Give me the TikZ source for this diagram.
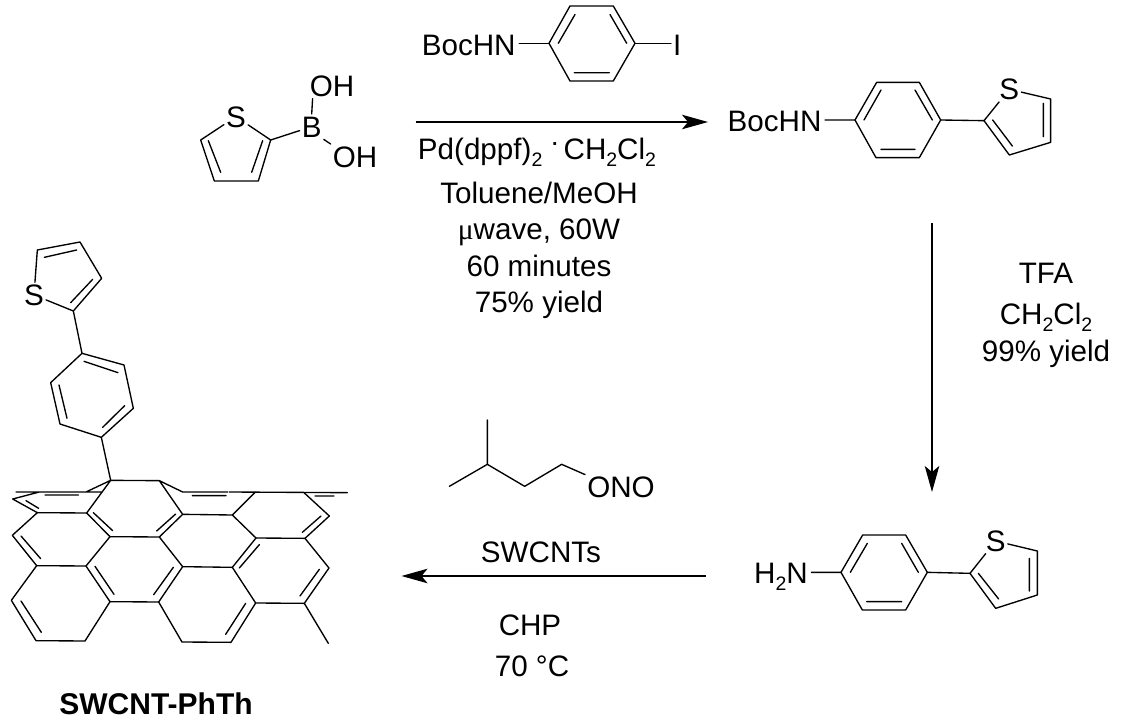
\documentclass[tikz,border=0pt]{standalone}
\usepackage{fontspec}
\setmainfont{Liberation Sans}
\newfontfamily\greekfont{Liberation Serif}
\usetikzlibrary{arrows.meta}
\newcommand{\chemsub}[1]{\raisebox{-0.22em}{\fontsize{19.5}{20}\selectfont #1}}
\tikzset{
  bond/.style={line width=1.35pt,line cap=round,line join=round,black},
  rxn/.style={line width=1.15pt,-{Stealth[length=26pt,width=14.5pt,inset=6pt]},black},
  txt/.style={font=\fontsize{29.6}{32}\selectfont,inner sep=0pt,text height=21pt,text depth=0pt,black},
  atom/.style={txt,inner sep=2pt},
  zoomed/.style={x=0.33333pt,y=-0.33333pt},
}
\begin{document}
\begin{tikzpicture}[x=1pt,y=-1pt]
\useasboundingbox (0,0) rectangle (1122,725);
\fill[white] (0,0) rectangle (1122,725);

% ---- thienylboronic acid
\node[atom] (S1) at (236,116.7) {S};
\node[atom] (B1) at (311.7,126.7) {B};
\node[atom] (OHa) at (332,86) {OH};
\node[atom] (OHb) at (355,156.7) {OH};
\begin{scope}[shift={(180,10)},zoomed]
\coordinate (c2) at (272,390); \coordinate (c3) at (235,513);
\coordinate (c4) at (103,513); \coordinate (c5) at (62,390);
\draw[bond] (S1) -- (c2) -- (c3) -- (c4) -- (c5) -- (S1);
\draw[bond] (248,392) -- (215,487) (122,487) -- (85,392);
\end{scope}
\draw[bond] (c2) -- (B1);
\draw[bond] (B1.north) -- ([xshift=5pt]OHa.south west);
\draw[bond] (B1.south east) -- (OHb.north west);

% ---- aryl iodide
\node[atom] (Boc1) at (468.7,44.7) {BocHN};
\node[atom] (I1) at (677.3,44.7) {I};
\coordinate (a1) at (549,43.3); \coordinate (a2) at (570,6);
\coordinate (a3) at (613.3,6); \coordinate (a4) at (635,43.3);
\coordinate (a5) at (613.3,81); \coordinate (a6) at (570,81);
\draw[bond] (a1) -- (a2) -- (a3) -- (a4) -- (a5) -- (a6) -- cycle;
\draw[bond] ([xshift=1.5pt]Boc1.east |- a1) -- (a1) (a4) -- (I1.west |- a4);
\draw[bond] (558.3,43.3) -- (575,14.5) (610,14.5) -- (626.7,43.3) (574.3,72.7) -- (609.3,72.7);

% ---- Boc product
\node[atom] (Boc2) at (774.5,120.7) {BocHN};
\node[atom] (S2) at (1009.3,89.3) {S};
\begin{scope}[shift={(720,60)},zoomed]
\coordinate (b1) at (405,180); \coordinate (b2) at (470,67);
\coordinate (b3) at (598,67); \coordinate (b4) at (662,180);
\coordinate (b5) at (598,293); \coordinate (b6) at (468,293);
\coordinate (d2) at (792,182); \coordinate (d3) at (868,285);
\coordinate (d4) at (992,247); \coordinate (d5) at (992,117);
\draw[bond] (b1) -- (b2) -- (b3) -- (b4) -- (b5) -- (b6) -- cycle;
\draw[bond] ([xshift=1.5pt]Boc2.east |- b1) -- (b1) (b4) -- (d2);
\draw[bond] (S2) -- (d2) -- (d3) -- (d4) -- (d5) -- (S2);
\draw[bond] (432,180) -- (483,90) (585,90) -- (637,180) (483,268) -- (585,268);
\draw[bond] (818,180) -- (877,258) (970,130) -- (970,230);
\end{scope}

% ---- amine
\node[atom] (NH2) at (781,573) {H\chemsub{2}N};
\node[atom] (S3) at (995.7,541) {S};
\begin{scope}[shift={(740,515)},zoomed]
\coordinate (e1) at (303,172); \coordinate (e2) at (368,60);
\coordinate (e3) at (497,60); \coordinate (e4) at (562,172);
\coordinate (e5) at (497,285); \coordinate (e6) at (367,285);
\coordinate (f2) at (690,175); \coordinate (f3) at (767,280);
\coordinate (f4) at (892,240); \coordinate (f5) at (892,108);
\draw[bond] (e1) -- (e2) -- (e3) -- (e4) -- (e5) -- (e6) -- cycle;
\draw[bond] ([xshift=1.5pt]NH2.east |- e1) -- (e1) (e4) -- (f2);
\draw[bond] (S3) -- (f2) -- (f3) -- (f4) -- (f5) -- (S3);
\draw[bond] (331,172) -- (382,85) (485,85) -- (535,172) (380,260) -- (485,260);
\draw[bond] (715,175) -- (776,252) (868,130) -- (868,228);
\end{scope}

% ---- isopentyl nitrite
\node[atom] (ONO1) at (621,487.3) {ONO};
\begin{scope}[shift={(400,410)},zoomed]
\coordinate (g1) at (262,30); \coordinate (g2) at (262,163);
\coordinate (g3) at (148,229); \coordinate (g4) at (374,229);
\coordinate (g5) at (485,163);
\draw[bond] (g1) -- (g2) -- (g3) (g2) -- (g4) -- (g5) -- (ONO1.north west);
\end{scope}

% ---- reaction arrows
\coordinate (r1s) at (415.7,122); \coordinate (r1e) at (708,122);
\coordinate (r2s) at (932,223); \coordinate (r2e) at (932,492);
\coordinate (r3s) at (705.5,576); \coordinate (r3e) at (401.5,576);
\draw[rxn] (r1s) -- (r1e);
\draw[rxn] (r2s) -- (r2e);
\draw[rxn] (r3s) -- (r3e);

% ---- conditions
\node[txt] (c1) at (537,149) {Pd(dppf)\chemsub{2}\,\,\raisebox{0.3em}{\fontsize{19.5}{20}\selectfont\bfseries ·}\,CH\chemsub{2}Cl\chemsub{2}};
\node[txt] (c2t) at (539,193) {Toluene/MeOH};
\node[txt] (c3t) at (539,229) {{\greekfont μ}wave, 60W};
\node[txt] (c4t) at (539,266) {60 minutes};
\node[txt] (c5t) at (539,302) {75\% yield};
\node[txt] (c6t) at (1046,273) {TFA};
\node[txt] (c7t) at (1046,314) {CH\chemsub{2}Cl\chemsub{2}};
\node[txt] (c8t) at (1046,351) {99\% yield};
\node[txt] (c9t) at (541,551.7) {SWCNTs};
\node[txt] (c10t) at (530,625) {CHP};
\node[txt] (c11t) at (532,666) {70 °C};
\node[txt,font=\fontsize{30}{32}\selectfont\bfseries] (name) at (156,704) {SWCNT-PhTh};

% ---- thienylphenyl on the tube
\node[atom] (S4) at (34,295) {S};
\begin{scope}[shift={(0,230)},zoomed]
\coordinate (p1) at (304,622); \coordinate (p2) at (400,535);
\coordinate (p3) at (372,405); \coordinate (p4) at (246,370);
\coordinate (p5) at (152,458); \coordinate (p6) at (180,582);
\coordinate (t1) at (220,243); \coordinate (t2) at (305,145);
\coordinate (t3) at (240,36); \coordinate (t4) at (112,60);
\draw[bond] (p1) -- (p2) -- (p3) -- (p4) -- (p5) -- (p6) -- cycle;
\draw[bond] (p4) -- (t1) -- (t2) -- (t3) -- (t4) -- (S4) -- (t1);
\draw[bond] (308,592) -- (374,527) (354,428) -- (252,394) (177,465) -- (201,565);
\draw[bond] (212,218) -- (278,148) (230,60) -- (133,82);
\end{scope}

% ---- nanotube
\begin{scope}[shift={(0,450)},zoomed]
\coordinate (n1) at (332,91); \coordinate (n2) at (478,92);
\draw[bond] (p1) -- (n1) -- (n2);
\draw[bond] (48,126) -- (305,126) (118,126) -- (38,147) -- (112,188) -- (260,189) -- (n1) -- (258,126);
\draw[bond] (135,135) -- (235,135) (78,152) -- (116,175);
\draw[bond] (260,189) -- (330,260) -- (478,261) -- (548,193) -- (n2) -- (548,126) -- (683,126);
\draw[bond] (280,188) -- (338,242) (470,243) -- (527,192) (577,137) -- (678,137);
\draw[bond] (688,126) -- (1042,128) (945,138) -- (1002,138);
\draw[bond] (765,127) -- (697,195) -- (548,193) (697,195) -- (768,264) -- (915,265) -- (988,198) -- (912,128);
\draw[bond] (963,198) -- (907,247);
\draw[bond] (768,264) -- (697,352) -- (767,459) -- (913,460) -- (987,354) -- (915,265);
\draw[bond] (778,284) -- (718,354) (958,358) -- (900,438);
\draw[bond] (697,352) -- (548,350) -- (478,261) (548,350) -- (476,456) -- (330,455) -- (258,348) -- (330,260);
\draw[bond] (520,352) -- (461,434) (285,349) -- (342,433);
\draw[bond] (258,348) -- (110,347) -- (37,256) -- (112,188) (63,258) -- (122,326);
\draw[bond] (110,347) -- (34,451) -- (108,572) -- (255,573) -- (330,455) (63,453) -- (124,547);
\draw[bond] (476,456) -- (546,576) -- (693,577) -- (767,459) (737,460) -- (677,553);
\draw[bond] (913,460) -- (985,580);
\end{scope}
\end{tikzpicture}
\end{document}
